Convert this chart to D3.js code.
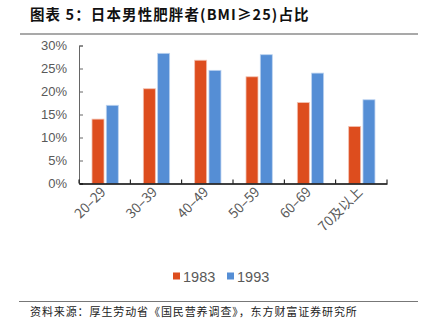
<!DOCTYPE html>
<html><head><meta charset="utf-8">
<script src="https://cdn.jsdelivr.net/npm/d3@7/dist/d3.min.js"></script>
<style>body{margin:0;background:#fff;}svg{display:block;}</style>
</head><body>
<script>
const categories = ["20–29","30–39","40–49","50–59","60–69","70及以上"];
const seriesNames = ["1983","1993"];
const values1983 = [14.0, 20.6, 26.8, 23.2, 17.6, 12.4];
const values1993 = [17.0, 28.3, 24.6, 28.0, 24.0, 18.2];
const yTicks = [0,5,10,15,20,25,30];
const colors = ["#DD4D1E","#558ED5"];

const W=428,H=326;
const svg=d3.select("body").append("svg").attr("width",W).attr("height",H);
const font="'Noto Sans CJK SC','Noto Sans',sans-serif";

// title
svg.append("text").attr("x",30).attr("y",20).attr("font-family",font).attr("font-weight","bold")
  .attr("font-size",14.5).attr("letter-spacing",1.1).attr("fill","#111").text("图表 5：日本男性肥胖者(BMI≥25)占比");
svg.append("line").attr("x1",20).attr("x2",418).attr("y1",34).attr("y2",34).attr("stroke","#555").attr("stroke-width",1.2);

const x=d3.scaleBand().domain(categories).range([79,387]);
const y=d3.scaleLinear().domain([0,30]).range([183.5,45.5]);

const data=categories.map((c,i)=>({c,v:[values1983[i],values1993[i]]}));
const bw=12, off=[13,27.3];
const g=svg.append("g");
data.forEach(d=>{
  d.v.forEach((v,j)=>{
    g.append("rect").attr("x",x(d.c)+off[j]).attr("y",y(v)).attr("width",bw).attr("height",y(0)-y(v))
     .attr("fill",colors[j]).attr("stroke",j==0?"#f3c2b2":"#bcd3f0").attr("stroke-width",0.8);
  });
});

// y axis
const ya=svg.append("g").attr("transform","translate(79,0)")
  .call(d3.axisLeft(y).tickValues(yTicks).tickFormat(d=>d+"%").tickSize(-4).tickPadding(12));
ya.select(".domain").attr("stroke","#666");
ya.selectAll(".tick line").attr("stroke","#666");
ya.selectAll("text").attr("font-family","'Liberation Sans',Arial,sans-serif").attr("font-size",13).attr("fill","#595959");

// x axis
const xa=svg.append("g").attr("transform","translate(0,183.5)")
  .call(d3.axisBottom(x).tickSize(0).tickFormat(""));
xa.select(".domain").attr("stroke","#000").attr("stroke-width",1.6);
const bounds=[...categories.map(c=>x(c)), 387];
bounds.forEach(b=>{
  svg.append("line").attr("x1",b).attr("x2",b).attr("y1",183.5).attr("y2",179.5).attr("stroke","#000").attr("stroke-width",1);
});
categories.forEach(c=>{
  const cx=x(c)+x.bandwidth()/2;
  svg.append("text").attr("transform",`translate(${cx+2},${193}) rotate(-45)`)
    .attr("text-anchor","end").attr("font-family",font).attr("font-size",13.5).attr("fill","#595959").text(c);
});

// legend
const lg=[{n:seriesNames[0],x:173},{n:seriesNames[1],x:227}];
lg.forEach((l,i)=>{
  svg.append("rect").attr("x",l.x).attr("y",272.5).attr("width",7).attr("height",7).attr("fill",colors[i]);
  svg.append("text").attr("x",l.x+10).attr("y",281.5).attr("font-family","'Liberation Sans',Arial,sans-serif")
    .attr("font-size",14.5).attr("fill","#595959").text(l.n);
});

// footer
svg.append("line").attr("x1",19).attr("x2",418).attr("y1",301.5).attr("y2",301.5).attr("stroke","#777").attr("stroke-width",1.2);
svg.append("text").attr("x",30).attr("y",316).attr("font-family",font).attr("font-size",11).attr("letter-spacing",0.9).attr("fill","#222")
  .text("资料来源：厚生劳动省《国民营养调查》，东方财富证券研究所");
</script>
</body></html>
